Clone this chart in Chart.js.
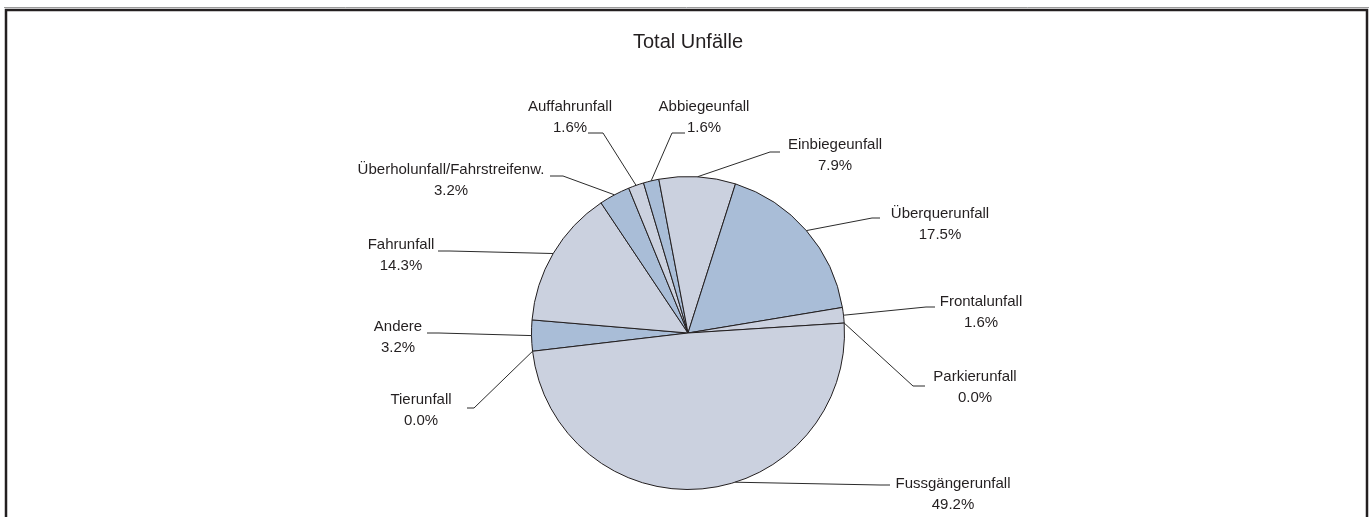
<!DOCTYPE html>
<html>
<head>
<meta charset="utf-8">
<script src="https://cdn.jsdelivr.net/npm/chart.js@4.4.1/dist/chart.umd.min.js"></script>
<style>
  html, body { margin: 0; padding: 0; background: #fff; }
  canvas { display: block; }
</style>
</head>
<body>
<canvas id="chart" width="1371" height="517"></canvas>
<script>
// Unfalltypen, im Uhrzeigersinn ab "Andere"
const categories = ['Andere', 'Fahrunfall', 'Überholunfall/Fahrstreifenw.', 'Auffahrunfall', 'Abbiegeunfall',
  'Einbiegeunfall', 'Überquerunfall', 'Frontalunfall', 'Parkierunfall', 'Fussgängerunfall', 'Tierunfall'];
const shares = [3.2, 14.3, 3.2, 1.6, 1.6, 7.9, 17.5, 1.6, 0.0, 49.2, 0.0];
const shareLabels = shares.map(v => v.toFixed(1) + '%');
const chartTitle = 'Total Unfälle';

const BLUE = '#a9bdd7';
const GREY = '#cbd1df';
const INK = '#231f20';
const FONT = '"Liberation Sans", Arial, sans-serif';

// callout placement, relative to the pie centre
// tx/ty: text centre (first row), ly: leader row, nx: leader end near text, ex: elbow
const labelLayout = [
  { tx: -290, ty: -6,   ly: 0,    nx: -261, ex: -249 },
  { tx: -287, ty: -88,  ly: -82,  nx: -250, ex: -238 },
  { tx: -237, ty: -163, ly: -157, nx: -138, ex: -125 },
  { tx: -118, ty: -226, ly: -200, nx: -100, ex: -85 },
  { tx: 16,   ty: -226, ly: -200, nx: -3,   ex: -16 },
  { tx: 147,  ty: -188, ly: -181, nx: 92,   ex: 82 },
  { tx: 252,  ty: -119, ly: -115, nx: 192,  ex: 184 },
  { tx: 293,  ty: -31,  ly: -26,  nx: 247,  ex: 238 },
  { tx: 287,  ty: 44,   ly: 53,   nx: 237,  ex: 225 },
  { tx: 265,  ty: 151,  ly: 152,  nx: 202,  ex: 192, attach: 0.43 },
  { tx: -267, ty: 67,   ly: 75,   nx: -221, ex: -214 },
];

const framePlugin = {
  id: 'frame',
  beforeDraw(chart) {
    const { ctx, width, height } = chart;
    ctx.save();
    ctx.fillStyle = '#fff';
    ctx.fillRect(0, 0, width, height);
    ctx.strokeStyle = '#9a9a9a';
    ctx.lineWidth = 1;
    ctx.beginPath();
    ctx.moveTo(4, 7.5); ctx.lineTo(1369, 7.5);
    ctx.stroke();
    ctx.strokeStyle = INK;
    ctx.lineWidth = 2.5;
    ctx.beginPath();
    ctx.moveTo(6, height);
    ctx.lineTo(6, 10);
    ctx.lineTo(1367, 10);
    ctx.lineTo(1367, height);
    ctx.stroke();
    ctx.restore();
  }
};

const calloutPlugin = {
  id: 'callouts',
  afterDatasetsDraw(chart) {
    const { ctx } = chart;
    const meta = chart.getDatasetMeta(0);
    ctx.save();
    // title
    const c0 = meta.data[0].getProps(['x', 'y'], true);
    ctx.fillStyle = INK;
    ctx.font = '20px ' + FONT;
    ctx.textAlign = 'center';
    ctx.textBaseline = 'middle';
    ctx.fillText(chartTitle, c0.x, 42);

    ctx.font = '15px ' + FONT;
    ctx.strokeStyle = '#2b2b2b';
    ctx.lineWidth = 1;
    meta.data.forEach((arc, i) => {
      const { x, y, startAngle, endAngle, outerRadius } =
        arc.getProps(['x', 'y', 'startAngle', 'endAngle', 'outerRadius'], true);
      const L = labelLayout[i];
      const a = startAngle + (endAngle - startAngle) * (L.attach ?? 0.5);
      const px = x + outerRadius * Math.cos(a);
      const py = y + outerRadius * Math.sin(a);

      ctx.beginPath();
      ctx.moveTo(x + L.nx, y + L.ly);
      ctx.lineTo(x + L.ex, y + L.ly);
      ctx.lineTo(px, py);
      ctx.stroke();

      ctx.fillText(categories[i], x + L.tx, y + L.ty);
      ctx.fillText(shareLabels[i], x + L.tx, y + L.ty + 21);
    });
    ctx.restore();
  }
};

new Chart(document.getElementById('chart'), {
  type: 'pie',
  data: {
    labels: categories,
    datasets: [{
      data: shares,
      backgroundColor: sliceColors(),
      borderColor: INK,
      borderWidth: 1,
    }],
  },
  options: {
    responsive: false,
    animation: false,
    rotation: -96.7,
    layout: { padding: { left: 531, right: 526, top: 176, bottom: 27 } },
    plugins: {
      legend: { display: false },
      tooltip: { enabled: false },
      title: { display: false },
    },
  },
  plugins: [framePlugin, calloutPlugin],
});

function sliceColors() {
  return categories.map((c, i) => (i % 2 === 0 ? BLUE : GREY));
}
</script>
</body>
</html>
